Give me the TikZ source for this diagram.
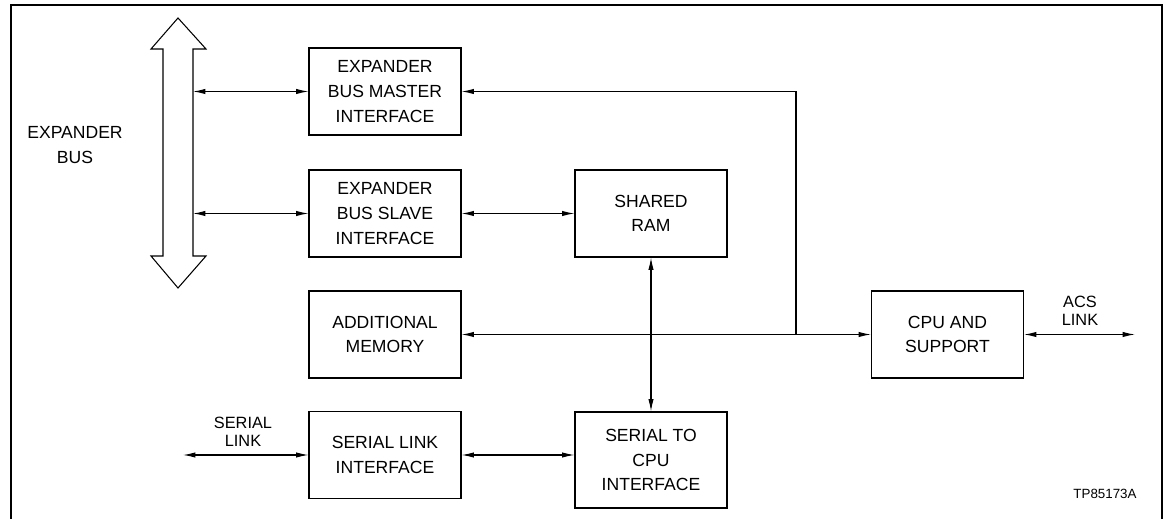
\documentclass[tikz,border=0pt]{standalone}
\usepackage{fontspec}
\setmainfont{Liberation Sans}
\usetikzlibrary{arrows.meta}
\begin{document}
\begin{tikzpicture}
  [x=0.02cm,y=-0.02cm,
   block/.style={draw,line width=0.6pt,minimum width=3.04cm,minimum height=1.74cm,inner sep=0pt,align=center,font=\fontsize{10}{14}\selectfont},
   link/.style={line width=0.6pt,{Latex[length=7pt,width=3pt]}-{Latex[length=7pt,width=3pt]}},
   feed/.style={line width=0.6pt,-{Latex[length=7pt,width=3pt]}},
   tag/.style={align=center,inner sep=0pt,font=\fontsize{9.3}{10}\selectfont}]
  \useasboundingbox (0,0) rectangle (1167,519);
  % frame
  \draw[line width=1pt] (11,519) -- (11,5) -- (1162,5) -- (1162,519);
  % expander bus
  \draw[line width=0.6pt] (163,256) -- (163,49) -- (151,49) -- (178,18) -- (206,49) -- (193,49)
    -- (193,256) -- (206,256) -- (178,288) -- (151,256) -- cycle;
  \node[tag,font=\fontsize{10}{14}\selectfont] (buslbl) at (75,145) {EXPANDER\\BUS};
  \coordinate (busM) at (193,91.5);
  \coordinate (busS) at (193,213.5);
  % blocks
  \node[block] (master) at (385,91.5) {EXPANDER\\BUS MASTER\\INTERFACE};
  \node[block] (slave) at (385,213.5) {EXPANDER\\BUS SLAVE\\INTERFACE};
  \node[block] (ram) at (651,213.5) {SHARED\\RAM};
  \node[block] (memory) at (385,334.5) {ADDITIONAL\\MEMORY};
  \node[block] (cpu) at (947.5,334.5) {CPU AND\\SUPPORT};
  \node[block] (serial) at (385,455) {SERIAL LINK\\INTERFACE};
  \node[block,minimum height=1.92cm] (s2cpu) at (651,460) {SERIAL TO\\CPU\\INTERFACE};
  % free ends
  \coordinate (tap) at (796,334.5);
  \coordinate (acs) at (1135,334.5);
  \coordinate (ser) at (183,455);
  \node[tag] (acslbl) at (1080,311) {ACS\\LINK};
  \node[tag] (serlbl) at (243,432) {SERIAL\\LINK};
  \node[font=\fontsize{7.6}{8}\selectfont] (tp) at (1105,494) {TP85173A};
  % connectors
  \draw[link] (busM) -- (master.west);
  \draw[link] (busS) -- (slave.west);
  \draw[link] (slave) -- (ram);
  \draw[link] (memory) -- (cpu);
  \draw[feed] (tap) |- (master.east);
  \draw[link] (ram) -- (s2cpu);
  \draw[link] (cpu) -- (acs);
  \draw[link] (ser) -- (serial.west);
  \draw[link] (serial.east) -- (serial.east -| s2cpu.west);
\end{tikzpicture}
\end{document}
